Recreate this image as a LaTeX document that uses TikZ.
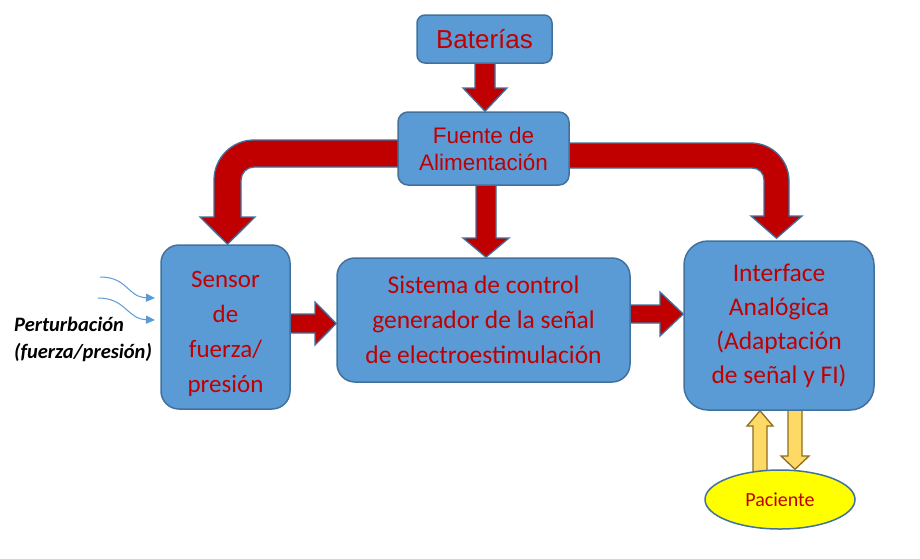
\documentclass[tikz,border=0pt]{standalone}
\usepackage{fontspec}
\setmainfont{Carlito}
\newfontfamily\arialf{Liberation Sans}
\usetikzlibrary{arrows.meta,calc,shapes.geometric}
\pgfdeclarelayer{bg}
\pgfsetlayers{bg,main}
\definecolor{boxfill}{HTML}{5B9BD5}
\definecolor{boxline}{HTML}{41719C}
\definecolor{txtred}{HTML}{C00000}
\definecolor{arrred}{HTML}{C00000}
\definecolor{yelarr}{HTML}{FFD966}
\definecolor{yelline}{HTML}{8C6D1F}
\definecolor{pacfill}{HTML}{FFFF00}
\begin{document}
\begin{tikzpicture}[x=1pt,y=-1pt,
  blk/.style={draw=boxline, fill=boxfill, line width=1.5pt, rounded corners=#1,
    inner sep=0pt, text=txtred, align=center},
  redarr/.style={fill=arrred, draw=boxline, line width=1.3pt, line join=miter},
  yelarrow/.style={fill=yelarr, draw=yelline, line width=1.3pt, line join=miter},
  pert/.style={draw=boxfill, line width=1pt, -{Triangle[length=9pt,width=8pt]}}]
\useasboundingbox (0,0) rectangle (920,558);

% boxes
\node[blk=8pt, minimum width=135pt, minimum height=48pt,
  font=\arialf\fontsize{26}{30}\selectfont] (bat) at (484.5,39) {Baterías};
\node[blk=10pt, minimum width=171pt, minimum height=73pt,
  font=\arialf\fontsize{22.5}{27}\selectfont] (fue) at (483.5,148.5) {Fuente de\\Alimentación};
\node[blk=18pt, minimum width=129pt, minimum height=164pt,
  font=\fontsize{25}{35}\selectfont] (sen) at (225.5,327) {\rule{0pt}{30pt}Sensor\\de\\fuerza/\\presión};
\node[blk=18pt, minimum width=293pt, minimum height=124pt,
  font=\fontsize{25.5}{35}\selectfont] (sis) at (483.5,320) {Sistema de control\\generador de la señal\\de electroestimulación};
\node[blk=24pt, minimum width=190pt, minimum height=169pt,
  font=\fontsize{25.5}{34}\selectfont] (int) at (779,325.5) {Interface\\Analógica\\(Adaptación\\de señal y FI)};
\node[ellipse, draw=boxline, fill=pacfill, line width=1.5pt, inner sep=0pt,
  minimum width=150pt, minimum height=59pt, text=txtred,
  font=\fontsize{20}{22}\selectfont] (pac) at (780,499.5) {Paciente};

\node[anchor=west, align=left, inner sep=0pt,
  font=\bfseries\itshape\fontsize{20.5}{27}\selectfont] (ptxt) at (14,339) {Perturbación\\(fuerza/presión)};

\coordinate (p1s) at (100,277);
\coordinate (p1e) at (155,298);
\coordinate (p2s) at (98,298);
\coordinate (p2e) at (155,320);
\draw[pert] (p1s) .. controls (128,277) and (127,297) .. (p1e);
\draw[pert] (p2s) .. controls (126,298) and (127,319) .. (p2e);

\begin{pgfonlayer}{bg}
% Baterias -> Fuente
\draw[redarr] (bat.center -| 475,0) -- (475,88) -- (463,88) -- (fue.north -| 485,0)
  -- (507,88) -- (495,88) -- (bat.center -| 495,0) -- cycle;
% Fuente -> Sistema
\draw[redarr] (fue.center -| 476,0) -- (476,238) -- (463,238) -- (sis.north -| 486,0)
  -- (509,238) -- (496,238) -- (fue.center -| 496,0) -- cycle;
% Fuente -> Sensor
\draw[redarr] (fue.center |- 0,140) -- (254,140) .. controls (232,140) and (214,158) .. (214,180)
  -- (214,217) -- (200,217) -- (sen.north -| 227.5,0) -- (255,217) -- (241,217)
  -- (241,180) .. controls (241,173) and (247,167) .. (254,167) -- (fue.center |- 0,167) -- cycle;
% Fuente -> Interface
\draw[redarr] (fue.center |- 0,143) -- (751,143) .. controls (772,143) and (789,160) .. (789,181)
  -- (789,216) -- (802,216) -- ($(int.north -| 776.5,0)+(0,-2)$) -- (751,216) -- (764,216)
  -- (764,180) .. controls (764,173) and (759,168) .. (752,168) -- (fue.center |- 0,168) -- cycle;
% Sensor -> Sistema
\draw[redarr] (sen.center |- 0,314) -- (315,314) -- (315,302) -- (sis.west |- 0,323.5)
  -- (315,345) -- (315,333) -- (sen.center |- 0,333) -- cycle;
% Sistema -> Interface
\draw[redarr] (sis.center |- 0,305) -- (660,305) -- (660,292) -- (int.west |- 0,314)
  -- (660,336) -- (660,323) -- (sis.center |- 0,323) -- cycle;
% Paciente -> Interface
\draw[yelarrow] (pac.center -| 753,0) -- (753,426) -- (747,426) -- (int.south -| 760,0)
  -- (773,426) -- (767,426) -- (pac.center -| 767,0) -- cycle;
% Interface -> Paciente
\draw[yelarrow] (int.center -| 788,0) -- (788,456) -- (781,456) -- (pac.north -| 795,0)
  -- (809,456) -- (802,456) -- (int.center -| 802,0) -- cycle;
\end{pgfonlayer}
\end{tikzpicture}
\end{document}
